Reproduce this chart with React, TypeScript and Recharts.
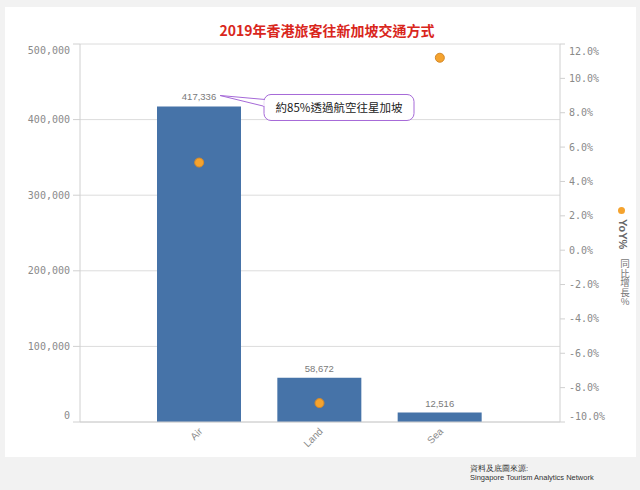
import React from 'react';
import { ComposedChart, Bar, Line, XAxis, YAxis, CartesianGrid, LabelList } from 'recharts';

const categories = ['Air', 'Land', 'Sea'];
const visitors = [417336, 58672, 12516];
const yoyPercent = [5.1, -8.9, 11.2];
const leftTicks = [0, 100000, 200000, 300000, 400000, 500000];
const rightTicks = [-10, -8, -6, -4, -2, 0, 2, 4, 6, 8, 10, 12];
const titleText = '2019年香港旅客往新加坡交通方式';
const calloutText = '約85%透過航空往星加坡';
const legendName = 'YoY%';
const legendSub = '同比增長%';
const sourceLines = ['資料及底圖來源:', 'Singapore Tourism Analytics Network'];

const data = categories.map((c, i) => ({ name: c, visitors: visitors[i], yoy: yoyPercent[i] }));

const BAR = '#4673a8';
const DOT = '#f5a32e';
const DOT_STROKE = '#d4892a';
const AXIS = '#d0d0d0';
const TICK = '#8a8a8a';
const MONO = '"DejaVu Sans Mono", monospace';
const SANS = '"Liberation Sans", Arial, sans-serif';
const CJK = '"Noto Sans CJK TC", "Noto Sans", sans-serif';

const fmtNum = (v: number) => v.toLocaleString('en-US');

const LeftTick = (props: any) => {
  const { x, y, payload } = props;
  let dy = 0;
  if (payload.value === 500000) dy = 6.5;
  if (payload.value === 0) dy = -6.5;
  return (
    <text x={x} y={y + dy} textAnchor="end" dominantBaseline="central" fill={TICK} fontSize={10} fontFamily={MONO}>
      {fmtNum(payload.value)}
    </text>
  );
};

const RightTick = (props: any) => {
  const { x, y, payload } = props;
  let dy = 0;
  if (payload.value === 12) dy = 7;
  if (payload.value === -10) dy = -6;
  return (
    <text x={x} y={y + dy} textAnchor="start" dominantBaseline="central" fill={TICK} fontSize={10} fontFamily={MONO}>
      {payload.value.toFixed(1) + '%'}
    </text>
  );
};

const XTick = (props: any) => {
  const { x, y, payload } = props;
  const px = x + 4;
  const py = y + 2;
  return (
    <text x={px} y={py} transform={`rotate(-45, ${px}, ${py})`} textAnchor="end" fill={TICK} fontSize={10} fontFamily={SANS}>
      {payload.value}
    </text>
  );
};

const BarLabel = (props: any) => {
  const { x, y, width, value, index } = props;
  const cx = x + width / 2;
  const label = (
    <text x={cx} y={y - 6} textAnchor="middle" fill="#7a7a7a" fontSize={9.5} fontFamily={SANS}>
      {fmtNum(value)}
    </text>
  );
  if (index !== 0) return label;
  const bx = cx + 65;
  const by = y - 12;
  const bw = 150;
  const bh = 26;
  return (
    <g>
      {label}
      <polygon
        points={`${cx + 21},${y - 11} ${bx + 1},${by + 5} ${bx + 1},${by + 12}`}
        fill="#ffffff"
        stroke="#a66ad8"
        strokeWidth={1}
      />
      <rect x={bx} y={by} width={bw} height={bh} rx={7} ry={7} fill="#ffffff" stroke="#a66ad8" strokeWidth={1} />
      <line x1={bx} y1={by + 5.5} x2={bx} y2={by + 11.5} stroke="#ffffff" strokeWidth={1.5} />
      <text x={bx + bw / 2} y={by + bh / 2} textAnchor="middle" dominantBaseline="central" fill="#222" fontSize={11.5} fontFamily={CJK}>
        {calloutText}
      </text>
    </g>
  );
};

export default function App() {
  return (
    <div style={{ position: 'absolute', left: 0, top: 0, width: 640, height: 490, background: '#f2f2f2', overflow: 'hidden' }}>
      <div style={{ position: 'absolute', left: 5, top: 7, width: 631, height: 450, background: '#ffffff' }} />
      <div
        style={{
          position: 'absolute',
          left: 0,
          width: 654,
          top: 20,
          textAlign: 'center',
          color: '#d9261c',
          fontWeight: 'bold',
          fontSize: 14,
          fontFamily: CJK,
          lineHeight: '20px',
        }}
      >
        {titleText}
      </div>
      <div style={{ position: 'absolute', left: 0, top: 0 }}>
        <ComposedChart width={640} height={490} data={data} margin={{ top: 44, right: 20, bottom: 38, left: 0 }}>
          <CartesianGrid yAxisId="left" vertical={false} stroke="#dcdcdc" />
          <XAxis
            dataKey="name"
            height={30}
            tick={<XTick />}
            tickLine={false}
            stroke={AXIS}
            padding={{ left: 59, right: 60 }}
            interval={0}
          />
          <YAxis
            yAxisId="left"
            orientation="left"
            width={80}
            domain={[0, 500000]}
            ticks={leftTicks}
            tick={<LeftTick />}
            tickSize={7}
            tickMargin={3}
            stroke={AXIS}
            interval={0}
          />
          <YAxis
            yAxisId="right"
            orientation="right"
            width={60}
            domain={[-10, 12]}
            ticks={rightTicks}
            tick={<RightTick />}
            tickSize={5}
            tickMargin={4}
            stroke={AXIS}
            interval={0}
          />
          <Bar yAxisId="left" dataKey="visitors" fill={BAR} barSize={84} isAnimationActive={false}>
            <LabelList dataKey="visitors" content={<BarLabel />} />
          </Bar>
          <Line
            yAxisId="right"
            dataKey="yoy"
            stroke="none"
            strokeWidth={0}
            dot={{ r: 4.5, fill: DOT, stroke: DOT_STROKE, strokeWidth: 1 }}
            activeDot={false}
            isAnimationActive={false}
          />
        </ComposedChart>
      </div>
      <div
        style={{
          position: 'absolute',
          left: 618,
          top: 206.5,
          width: 7,
          height: 7,
          borderRadius: '50%',
          background: DOT,
        }}
      />
      <div
        style={{
          position: 'absolute',
          left: 616,
          top: 219,
          width: 14,
          writingMode: 'vertical-rl',
          color: '#666',
          fontWeight: 'bold',
          fontSize: 11,
          fontFamily: SANS,
          lineHeight: '14px',
        }}
      >
        {legendName}
      </div>
      <div
        style={{
          position: 'absolute',
          left: 619,
          top: 259,
          width: 12,
          writingMode: 'vertical-rl',
          textOrientation: 'upright',
          color: '#777',
          fontSize: 9.5,
          fontFamily: CJK,
          lineHeight: '12px',
        }}
      >
        {legendSub}
      </div>
      <div
        style={{
          position: 'absolute',
          left: 470,
          top: 464,
          color: '#333',
          fontSize: 7.5,
          fontFamily: SANS,
          lineHeight: '9px',
        }}
      >
        {sourceLines.map((s) => (
          <div key={s}>{s}</div>
        ))}
      </div>
    </div>
  );
}
